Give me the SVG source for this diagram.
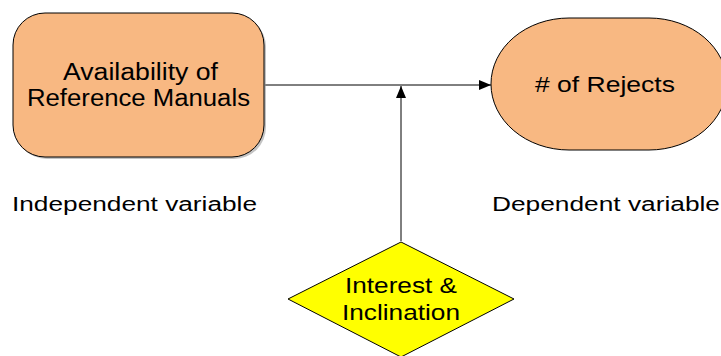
<svg xmlns="http://www.w3.org/2000/svg" width="721" height="356" viewBox="0 0 721 356">
<style>
text{font-family:"Liberation Sans",Arial,sans-serif;fill:#000}
.node{fill:#F8B882;stroke:#000;stroke-width:1}
.lbl{font-size:22px}
.big{font-size:23px}
.cap{font-size:20px}
.conn{stroke:#000;stroke-width:1;fill:none}
</style>
<defs>
<marker id="arr" viewBox="0 0 12 10" refX="12" refY="5" markerWidth="12" markerHeight="10" markerUnits="userSpaceOnUse" orient="auto">
<path d="M0,0 L12,5 L0,10 z" fill="#000"/>
</marker>
</defs>
<g id="connectors">
<path class="conn" d="M265,85 L491,85" marker-end="url(#arr)"/>
<path class="conn" d="M401,241 L401,86" marker-end="url(#arr)"/>
</g>
<g id="independent">
<rect x="15" y="15" width="251" height="144" rx="32" fill="#888" opacity="0.5"/>
<rect class="node" x="13" y="13" width="251" height="144" rx="32"/>
<text class="big" x="63" y="80" textLength="155" lengthAdjust="spacingAndGlyphs">Availability of</text>
<text class="big" x="27" y="106" textLength="223" lengthAdjust="spacingAndGlyphs">Reference Manuals</text>
</g>
<g id="dependent">
<rect class="node" x="491" y="18" width="236" height="132" rx="78" ry="66"/>
<text class="lbl" x="535" y="92" textLength="140" lengthAdjust="spacingAndGlyphs"># of Rejects</text>
</g>
<g id="moderator">
<polygon points="401,242 514,299 401,357 288,299" fill="#FFFF00" stroke="#000" stroke-width="1"/>
<text class="lbl" x="345" y="293" textLength="112" lengthAdjust="spacingAndGlyphs">Interest &amp;</text>
<text class="lbl" x="342" y="320" textLength="118" lengthAdjust="spacingAndGlyphs">Inclination</text>
</g>
<text class="cap" x="12" y="211" textLength="245" lengthAdjust="spacingAndGlyphs">Independent variable</text>
<text class="cap" x="492" y="211" textLength="228" lengthAdjust="spacingAndGlyphs">Dependent variable</text>
</svg>
